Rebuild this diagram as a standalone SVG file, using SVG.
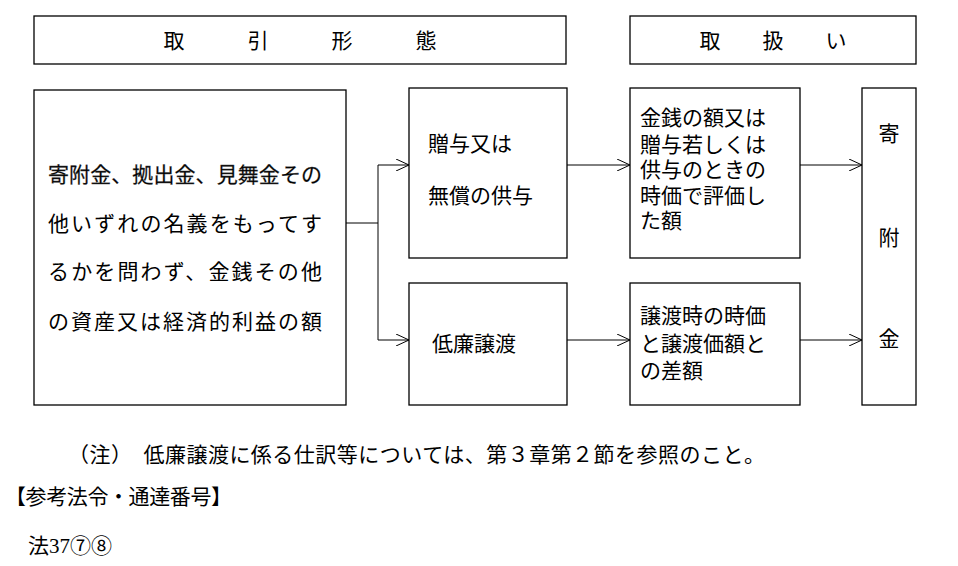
<svg xmlns="http://www.w3.org/2000/svg" width="958" height="566" viewBox="0 0 958 566">
<style>
.b{fill:#fff;stroke:#000;stroke-width:1.3}
text{font-family:"Liberation Serif","Noto Sans CJK JP",serif;font-size:21px;fill:#000}
.c{stroke:#000;stroke-width:1;fill:none}
</style>
<defs><marker id="a" markerWidth="14" markerHeight="12" refX="13" refY="6" orient="auto" markerUnits="userSpaceOnUse"><path d="M0,0 L13,6 L0,12" fill="none" stroke="#000" stroke-width="1"/></marker></defs>
<rect width="958" height="566" fill="#fff"/>
<g id="h1"><rect class="b" x="34" y="16" width="532" height="48"/><text x="300" y="48" text-anchor="middle" xml:space="preserve">取　　　引　　　形　　　態</text></g>
<g id="h2"><rect class="b" x="630" y="16" width="286" height="48"/><text x="773" y="48" text-anchor="middle" xml:space="preserve">取　　扱　　い</text></g>
<g id="src"><rect class="b" x="34" y="90" width="312" height="315"/>
<text x="48" y="182" textLength="274" stroke="#444" stroke-width="0.3">寄附金、拠出金、見舞金その</text>
<text x="48" y="231" textLength="274">他いずれの名義をもってす</text>
<text x="48" y="279" textLength="274">るかを問わず、金銭その他</text>
<text x="48" y="329" textLength="274">の資産又は経済的利益の額</text></g>
<g id="n1"><rect class="b" x="409" y="88" width="158" height="170"/><text x="428" y="151">贈与又は</text><text x="428" y="203">無償の供与</text></g>
<g id="n2"><rect class="b" x="409" y="283" width="158" height="122"/><text x="432" y="351">低廉譲渡</text></g>
<g id="r1"><rect class="b" x="630" y="88" width="170" height="170"/>
<text x="640" y="125">金銭の額又は</text><text x="640" y="152">贈与若しくは</text><text x="640" y="177">供与のときの</text><text x="640" y="203">時価で評価し</text><text x="640" y="228">た額</text></g>
<g id="r2"><rect class="b" x="630" y="283" width="170" height="122"/>
<text x="640" y="323">譲渡時の時価</text><text x="640" y="351">と譲渡価額と</text><text x="640" y="378">の差額</text></g>
<g id="k"><rect class="b" x="862" y="88" width="54" height="317"/>
<text x="889" y="141" text-anchor="middle">寄</text><text x="889" y="245" text-anchor="middle">附</text><text x="889" y="346" text-anchor="middle">金</text></g>
<g id="connectors">
<path class="c" d="M346,223 H378 M378,165 V340"/>
<path class="c" d="M378,165 H409" marker-end="url(#a)"/>
<path class="c" d="M378,340 H409" marker-end="url(#a)"/>
<path class="c" d="M567,165 H630" marker-end="url(#a)"/>
<path class="c" d="M567,340 H630" marker-end="url(#a)"/>
<path class="c" d="M800,165 H862" marker-end="url(#a)"/>
<path class="c" d="M800,340 H862" marker-end="url(#a)"/>
</g>
<text x="68" y="462" font-size="19" textLength="697" xml:space="preserve">（注）　低廉譲渡に係る仕訳等については、第３章第２節を参照のこと。</text>
<text x="5" y="504" font-size="19" textLength="227">【参考法令・通達番号】</text>
<text x="28" y="553" font-size="20" textLength="84">法37⑦⑧</text>
</svg>
